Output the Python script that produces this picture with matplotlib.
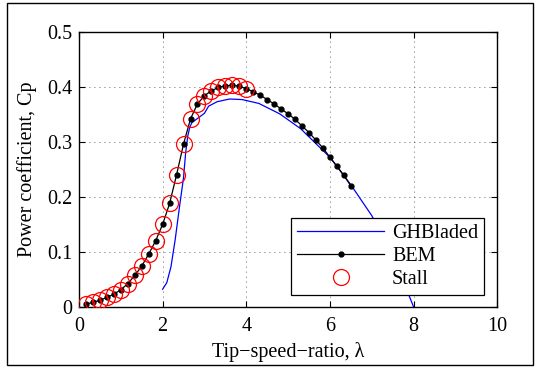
import matplotlib
matplotlib.use("Agg")
import matplotlib.pyplot as plt
from matplotlib.patches import Rectangle

plt.rcParams['font.family'] = ['Liberation Serif', 'DejaVu Serif']
plt.rcParams['mathtext.fontset'] = 'stix'

# BEM results (tip-speed ratio, power coefficient)
bem_tsr = [0.167, 0.333, 0.5, 0.667, 0.833, 1.0, 1.167, 1.333, 1.5, 1.667,
           1.833, 2.0, 2.167, 2.333, 2.5, 2.667, 2.833, 3.0, 3.167, 3.333,
           3.5, 3.667, 3.833, 4.0, 4.167, 4.333, 4.5, 4.667, 4.833, 5.0,
           5.167, 5.333, 5.5, 5.667, 5.833, 6.0, 6.167, 6.333, 6.5]
bem_cp = [0.005, 0.008, 0.012, 0.017, 0.023, 0.031, 0.042, 0.057, 0.074, 0.096,
          0.120, 0.150, 0.188, 0.240, 0.296, 0.342, 0.369, 0.384, 0.393, 0.399,
          0.402, 0.403, 0.401, 0.397, 0.391, 0.385, 0.377, 0.369, 0.360, 0.351,
          0.341, 0.329, 0.317, 0.303, 0.289, 0.272, 0.256, 0.239, 0.220]

# Stall markers (subset of BEM points)
stall_tsr = bem_tsr[:24]
stall_cp = bem_cp[:24]

# GH Bladed results
gh_tsr = [2.0, 2.1, 2.2, 2.3, 2.4, 2.5, 2.55, 2.6, 2.65, 2.7, 3.0, 3.1, 3.3,
          3.6, 3.9, 4.3, 4.8, 5.3, 6.0, 6.5, 7.0, 7.5, 8.0]
gh_cp = [0.032, 0.044, 0.073, 0.122, 0.180, 0.235, 0.280, 0.310, 0.327, 0.335,
         0.352, 0.365, 0.373, 0.378, 0.377, 0.370, 0.351, 0.324, 0.272, 0.222,
         0.166, 0.095, 0.0]

xticks = [0, 2, 4, 6, 8, 10]
yticks = [0, 0.1, 0.2, 0.3, 0.4, 0.5]
yticklabels = ['0', '0.1', '0.2', '0.3', '0.4', '0.5']

FS = 14.5

fig = plt.figure(figsize=(5.41, 3.67), dpi=100)
ax = fig.add_axes([0.146, 0.164, 0.773, 0.749])

ax.plot(gh_tsr, gh_cp, color='#0000ff', lw=0.9, label='GHBladed', zorder=2)
ax.plot(bem_tsr, bem_cp, color='black', lw=0.9, marker='o', ms=3.5,
        label='BEM', zorder=3)
ax.plot(stall_tsr, stall_cp, ls='none', marker='o', ms=11.5, mfc='none',
        mec='red', mew=0.9, label='Stall', zorder=4)

ax.set_xlim(0, 10)
ax.set_ylim(0, 0.5)
ax.set_xticks(xticks)
ax.set_yticks(yticks)
ax.set_yticklabels(yticklabels)
ax.tick_params(direction='in', length=4, width=0.8, top=True, right=True,
               labelsize=FS, pad=5)
ax.tick_params(axis='x', pad=7)
ax.grid(True, color='black', linestyle=(0, (1, 5)), linewidth=0.6, alpha=0.8)
for s in ax.spines.values():
    s.set_linewidth(1.0)

ax.set_xlabel('Tip\u2212speed\u2212ratio, \u03bb', fontsize=FS, labelpad=5)
ax.set_ylabel('Power coefficient, Cp', fontsize=FS, labelpad=7)

leg = ax.legend(loc='lower right', fontsize=FS, frameon=True, fancybox=False,
                edgecolor='black', framealpha=1, borderpad=0.3,
                handlelength=4.3, handletextpad=0.4, labelspacing=0.2,
                borderaxespad=0, bbox_to_anchor=(0.969, 0.043))
leg.get_frame().set_linewidth(0.9)

fig.patches.append(Rectangle((7 / 541, 2 / 367), 526 / 541, 362 / 367,
                             transform=fig.transFigure, fill=False,
                             edgecolor='black', lw=1.0))

fig.savefig('out.png', dpi=100)
